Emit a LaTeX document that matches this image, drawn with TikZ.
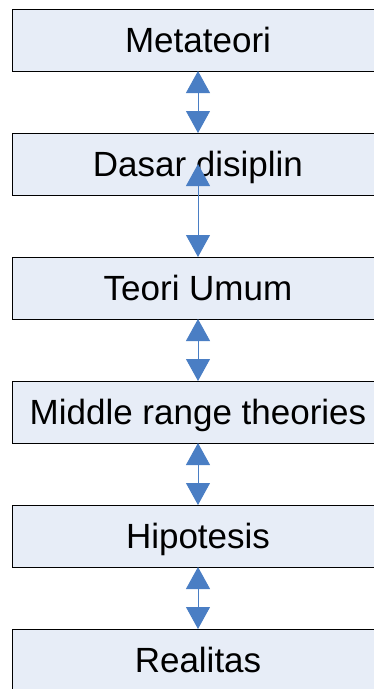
\documentclass[tikz,border=0pt]{standalone}
\usepackage{fontspec}
\setmainfont{Liberation Sans}
\usetikzlibrary{positioning}
\usetikzlibrary{arrows.meta}
\definecolor{boxfill}{HTML}{E7EDF7}
\definecolor{arrblue}{HTML}{4A7EC4}
\tikzset{lvl/.style={draw=black, line width=0.8pt, fill=boxfill, minimum width=372pt, minimum height=62pt, inner sep=0pt, outer sep=0pt, text height=25pt, text depth=0pt, font=\fontsize{35}{40}\selectfont}}
\tikzset{dbl/.style={arrblue, line width=1pt, {Triangle[width=24pt,length=22pt]}-{Triangle[width=24pt,length=22pt]}}}

\begin{document}
\begin{tikzpicture}
        \useasboundingbox (0,0) rectangle (374pt,-689pt);

        \node[lvl, anchor=north west] (meta) at (12pt,-9pt) {Metateori};
        \node[lvl, below=62pt of meta] (dasar) {Dasar disiplin};
        \node[lvl, below=62pt of dasar] (teori) {Teori Umum};
        \node[lvl, below=62pt of teori] (middle) {Middle range theories};
        \node[lvl, below=62pt of middle] (hipo) {Hipotesis};
        \node[lvl, below=62pt of hipo] (real) {Realitas};

        \draw[dbl] (meta) -- (dasar);
        \draw[dbl] (dasar.center) -- (teori);
        \draw[dbl] (teori) -- (middle);
        \draw[dbl] (middle) -- (hipo);
        \draw[dbl] (hipo) -- (real);

    \end{tikzpicture}
\end{document}
